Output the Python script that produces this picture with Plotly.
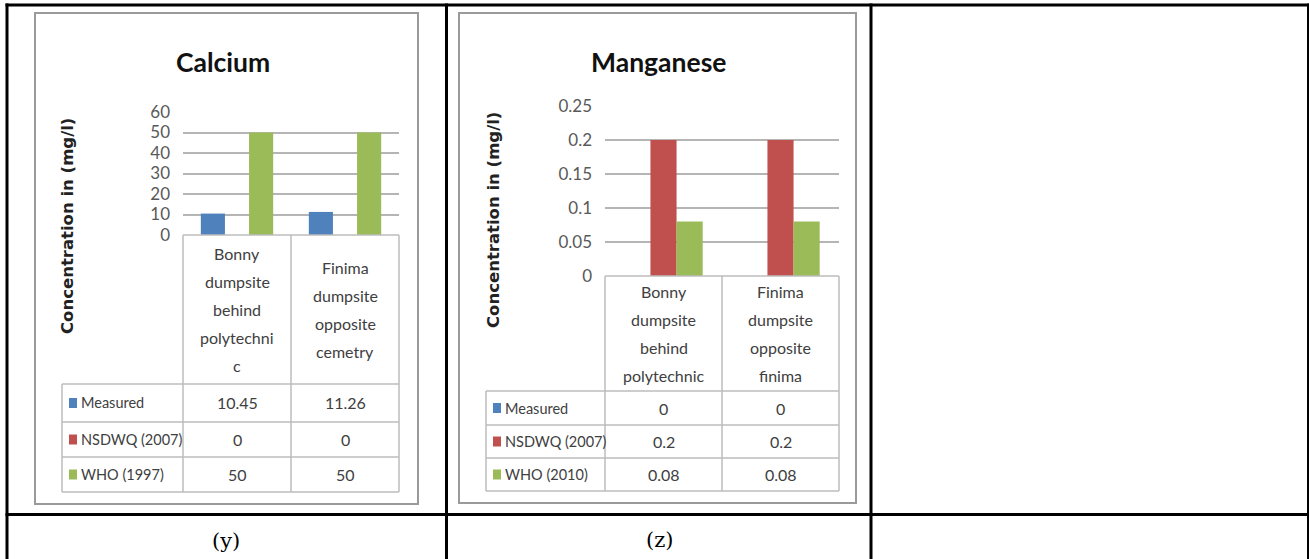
import plotly.graph_objects as go

W, H = 1309, 559

# ---------------- data ----------------
CA_CATEGORIES = ["Bonny dumpsite behind polytechnic", "Finima dumpsite opposite cemetry"]
CA_CAT_LINES = [["Bonny", "dumpsite", "behind", "polytechni", "c"],
                ["Finima", "dumpsite", "opposite", "cemetry"]]
CA_SERIES = ["Measured", "NSDWQ (2007)", "WHO (1997)"]
CA_MEASURED = [10.45, 11.26]
CA_NSDWQ = [0, 0]
CA_WHO = [50, 50]
CA_TICKS = [0, 10, 20, 30, 40, 50, 60]
CA_TICKTEXT = ["0", "10", "20", "30", "40", "50", "60"]

MN_CATEGORIES = ["Bonny dumpsite behind polytechnic", "Finima dumpsite opposite finima"]
MN_CAT_LINES = [["Bonny", "dumpsite", "behind", "polytechnic"],
                ["Finima", "dumpsite", "opposite", "finima"]]
MN_SERIES = ["Measured", "NSDWQ (2007)", "WHO (2010)"]
MN_MEASURED = [0, 0]
MN_NSDWQ = [0.2, 0.2]
MN_WHO = [0.08, 0.08]
MN_TICKS = [0, 0.05, 0.1, 0.15, 0.2, 0.25]
MN_TICKTEXT = ["0", "0.05", "0.1", "0.15", "0.2", "0.25"]

COLORS = ["#4F81BD", "#C0504D", "#9BBB59"]

NARROW = "Lato, Roboto, sans-serif"
BOLDF = "DejaVu Sans, Verdana, sans-serif"
SERIF = "DejaVu Serif, serif"
GRID = "#B5B5B5"
TBL = "#BDBDBD"
TXT = "#404040"
FS = 16


def X(px):
    return px / W


def Y(py):
    return 1 - py / H


panels = [
    dict(name="Calcium", xa="x", ya="y", cats=CA_CATEGORIES, lines=CA_CAT_LINES,
         series=CA_SERIES, values=[CA_MEASURED, CA_NSDWQ, CA_WHO],
         ticks=CA_TICKS, ticktext=CA_TICKTEXT,
         frame=(35, 13, 418, 504), plot=(183, 399, 112, 235),
         header_bottom=384, rows=[384, 422, 457, 492], leg_left=62,
         title=(223, 62), ytitle=(67, 226, 16.5), label=("(y)", 226, 541)),
    dict(name="Manganese", xa="x2", ya="y2", cats=MN_CATEGORIES, lines=MN_CAT_LINES,
         series=MN_SERIES, values=[MN_MEASURED, MN_NSDWQ, MN_WHO],
         ticks=MN_TICKS, ticktext=MN_TICKTEXT,
         frame=(459, 13, 856, 503), plot=(605, 839, 106, 276),
         header_bottom=391, rows=[391, 425, 458, 491], leg_left=486,
         title=(658, 62), ytitle=(493, 220, 16.5), label=("(z)", 659, 540)),
]

fig = go.Figure()
shapes = []
annotations = []
layout_axes = {}

for i, p in enumerate(panels):
    xa, ya = p["xa"], p["ya"]
    for s, (name, vals) in enumerate(zip(p["series"], p["values"])):
        fig.add_trace(go.Bar(x=p["cats"], y=vals, name=name, marker_color=COLORS[s],
                             marker_line_width=0, xaxis=xa, yaxis=ya, showlegend=False))
    l, r, t, b = p["plot"]
    suffix = "" if i == 0 else str(i + 1)
    layout_axes["xaxis" + suffix] = dict(domain=[X(l), X(r)], showticklabels=False,
                                         showgrid=False, zeroline=False, showline=False,
                                         ticks="", anchor=ya, fixedrange=True,
                                         automargin=False)
    layout_axes["yaxis" + suffix] = dict(domain=[Y(b), Y(t)], range=[0, p["ticks"][-1]],
                                         tickvals=p["ticks"], ticktext=p["ticktext"],
                                         showgrid=True, gridcolor=GRID, gridwidth=1.5,
                                         zeroline=False, showline=False, ticks="",
                                         ticklabelstandoff=12, automargin=False,
                                         tickfont=dict(family=NARROW, size=FS + 1, color="#595959"),
                                         anchor=xa, fixedrange=True)

    # chart frame
    fx0, fy0, fx1, fy1 = p["frame"]
    shapes.append(dict(type="rect", xref="paper", yref="paper", x0=X(fx0), x1=X(fx1),
                       y0=Y(fy1), y1=Y(fy0), line=dict(color="#9A9A9A", width=2),
                       fillcolor="rgba(0,0,0,0)", layer="below"))

    # title
    tx, ty = p["title"]
    annotations.append(dict(text="<b>%s</b>" % p["name"], x=X(tx), y=Y(ty), xref="paper",
                            yref="paper", showarrow=False, xanchor="center", yanchor="middle",
                            font=dict(family=NARROW, size=26.5, color="#111111")))
    # y title
    yx, yy, ys = p["ytitle"]
    annotations.append(dict(text="<b>Concentration in (mg/l)</b>", x=X(yx), y=Y(yy),
                            xref="paper", yref="paper", showarrow=False, textangle=-90,
                            xanchor="center", yanchor="middle",
                            font=dict(family=BOLDF, size=ys, color="#222222")))

    # data table
    n = len(p["cats"])
    bounds = [l + (r - l) * k / n for k in range(n + 1)]
    rows = p["rows"]
    shapes.append(dict(type="line", xref="paper", yref="paper", x0=X(l), x1=X(r),
                       y0=Y(b), y1=Y(b), line=dict(color=TBL, width=1.5)))
    for bx in bounds:
        shapes.append(dict(type="line", xref="paper", yref="paper", x0=X(bx), x1=X(bx),
                           y0=Y(b), y1=Y(rows[-1]), line=dict(color=TBL, width=1.5)))
    for ry in rows:
        shapes.append(dict(type="line", xref="paper", yref="paper", x0=X(p["leg_left"]),
                           x1=X(r), y0=Y(ry), y1=Y(ry), line=dict(color=TBL, width=1.5)))
    shapes.append(dict(type="line", xref="paper", yref="paper", x0=X(p["leg_left"]),
                       x1=X(p["leg_left"]), y0=Y(rows[0]), y1=Y(rows[-1]),
                       line=dict(color=TBL, width=1.5)))
    # category header text
    hc = (b + p["header_bottom"]) / 2
    lh = 28
    for c, lines in enumerate(p["lines"]):
        cx = (bounds[c] + bounds[c + 1]) / 2
        n_l = len(lines)
        for j, txt in enumerate(lines):
            yy_ = hc + (j - (n_l - 1) / 2) * lh
            annotations.append(dict(text=txt, x=X(cx), y=Y(yy_), xref="paper", yref="paper",
                                    showarrow=False, xanchor="center", yanchor="middle",
                                    font=dict(family=NARROW, size=FS, color=TXT)))
    # rows
    for s, (name, vals) in enumerate(zip(p["series"], p["values"])):
        ry = (rows[s] + rows[s + 1]) / 2
        kx = p["leg_left"] + 7
        shapes.append(dict(type="rect", xref="paper", yref="paper", x0=X(kx), x1=X(kx + 8),
                           y0=Y(ry + 5), y1=Y(ry - 5), fillcolor=COLORS[s],
                           line=dict(width=0)))
        annotations.append(dict(text=name, x=X(kx + 10), y=Y(ry), xref="paper", yref="paper",
                                showarrow=False, xanchor="left", yanchor="middle",
                                font=dict(family=NARROW, size=14.5, color=TXT)))
        for c, v in enumerate(vals):
            cx = (bounds[c] + bounds[c + 1]) / 2
            annotations.append(dict(text="%g" % v, x=X(cx), y=Y(ry), xref="paper",
                                    yref="paper", showarrow=False, xanchor="center",
                                    yanchor="middle",
                                    font=dict(family=NARROW, size=FS, color=TXT)))
    # panel label
    lt, lx, ly = p["label"]
    annotations.append(dict(text=lt, x=X(lx), y=Y(ly), xref="paper", yref="paper",
                            showarrow=False, xanchor="center", yanchor="middle",
                            font=dict(family=SERIF, size=21, color="#000000")))

# outer document table borders
BLK = dict(color="#000000", width=3)
shapes.append(dict(type="line", xref="paper", yref="paper", x0=X(5.5), x1=X(1310),
                   y0=Y(5), y1=Y(5), line=BLK))
shapes.append(dict(type="line", xref="paper", yref="paper", x0=X(5.5), x1=X(1310),
                   y0=Y(514.5), y1=Y(514.5), line=BLK))
for vx in [7, 446.5, 871, 1308.5]:
    shapes.append(dict(type="line", xref="paper", yref="paper", x0=X(vx), x1=X(vx),
                       y0=Y(3.5), y1=Y(562), line=BLK))

fig.update_layout(template="none", width=W, height=H,
                  margin=dict(l=0, r=0, t=0, b=0, pad=0, autoexpand=False),
                  paper_bgcolor="white", plot_bgcolor="rgba(0,0,0,0)",
                  barmode="group", bargap=0.33, bargroupgap=0,
                  shapes=shapes, annotations=annotations, showlegend=False,
                  **layout_axes)

fig.write_html("out.html", config={"displayModeBar": False},
               post_script="document.body.style.margin='0';document.body.style.overflow='hidden';")
